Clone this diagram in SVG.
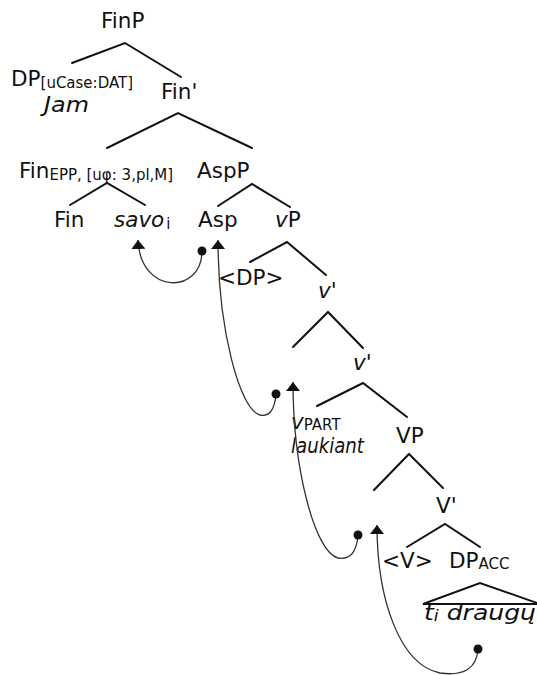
<svg xmlns="http://www.w3.org/2000/svg" width="537" height="675" viewBox="0 0 537 675">
<style>
.t{font-family:"DejaVu Sans","Open Sans",sans-serif;font-size:21.5px;fill:#111}
.i{font-style:italic}
.s{font-size:15px}
.br{stroke:#111;stroke-width:2;fill:none;stroke-linecap:round}
.mv{stroke:#333;stroke-width:1.3;fill:none;marker-start:url(#dot);marker-end:url(#arr)}
</style>
<defs>
<marker id="arr" markerUnits="userSpaceOnUse" viewBox="0 0 9 14" refX="9" refY="7" markerWidth="9" markerHeight="14" orient="auto"><path d="M0,0 L9,7 L0,14 z" fill="#111"/></marker>
<marker id="dot" markerUnits="userSpaceOnUse" viewBox="0 0 10 10" refX="5" refY="5" markerWidth="10" markerHeight="10"><circle cx="5" cy="5" r="4.5" fill="#111"/></marker>
</defs>
<rect width="537" height="675" fill="#fff"/>
<g id="branches">
<path class="br" d="M72,63 L125,43 L181,77"/>
<path class="br" d="M107,148 L178,113 L252,148"/>
<path class="br" d="M70,205 L107,183 L145,205"/>
<path class="br" d="M218,206 L252,184 L290,207"/>
<path class="br" d="M250,262 L287,242 L326,275"/>
<path class="br" d="M293,347 L328,312 L363,348"/>
<path class="br" d="M317,406 L363,383 L407,417"/>
<path class="br" d="M374,490 L409,454 L443,488"/>
<path class="br" d="M407,547 L445,524 L480,547"/>
<path class="br" d="M423,604 L480,583 L540,604 Z"/>
</g>
<g id="n-FinP"><text class="t" x="101" y="28">FinP</text></g>
<g id="n-DP"><text class="t" x="11" y="86">DP<tspan class="s" dy="2">[uCase:DAT]</tspan></text><text class="t i" x="44" y="112" textLength="45" lengthAdjust="spacingAndGlyphs">Jam</text></g>
<g id="n-Finbar"><text class="t" x="161" y="99">Fin'</text></g>
<g id="n-FinEPP"><text class="t" x="19" y="178">Fin<tspan class="s" dy="2">EPP, [uφ: 3,pl,M]</tspan></text></g>
<g id="n-AspP"><text class="t" x="197" y="178">AspP</text></g>
<g id="n-Fin"><text class="t" x="54" y="227">Fin</text></g>
<g id="n-savo"><text class="t i" x="114" y="227">savo<tspan class="s" font-style="normal" dx="2" dy="2">i</tspan></text></g>
<g id="n-Asp"><text class="t" x="198" y="227">Asp</text></g>
<g id="n-vP"><text class="t" x="275" y="227"><tspan class="i">v</tspan>P</text></g>
<g id="n-DPcopy"><text class="t" x="218" y="285">&lt;DP&gt;</text></g>
<g id="n-vbar1"><text class="t i" x="318" y="298">v'</text></g>
<g id="n-vbar2"><text class="t i" x="353" y="370">v'</text></g>
<g id="n-vPART"><text class="t" x="291" y="429"><tspan class="i">v</tspan><tspan class="s" dy="1">PART</tspan></text><text class="t i" x="291" y="453" textLength="73" lengthAdjust="spacingAndGlyphs">laukiant</text></g>
<g id="n-VP"><text class="t" x="396" y="443">VP</text></g>
<g id="n-Vbar"><text class="t" x="436" y="513">V'</text></g>
<g id="n-Vcopy"><text class="t" x="382" y="568">&lt;V&gt;</text></g>
<g id="n-DPACC"><text class="t" x="449" y="568">DP<tspan class="s" dy="1">ACC</tspan></text></g>
<g id="n-draugu"><text class="t i" x="424" y="620" textLength="112" lengthAdjust="spacingAndGlyphs">t<tspan class="s" dy="1">i</tspan><tspan dy="-1"> draugų</tspan></text></g>
<g id="connectors">
<path class="mv" d="M202,251 C202,295 140,295 138,240"/>
<path class="mv" d="M276,394 Q274,418 260,415 C240,410 218,330 218,240"/>
<path class="mv" d="M358,535 Q356,561 338,558 C315,552 293,470 293,382"/>
<path class="mv" d="M478,649 Q476,678 440,673 C400,665 377,600 377,525"/>
</g>
</svg>
